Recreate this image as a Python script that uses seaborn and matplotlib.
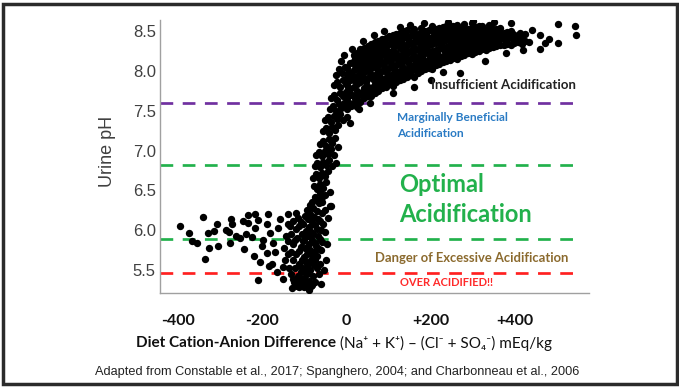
import matplotlib
matplotlib.use("Agg")
import matplotlib.pyplot as plt
import matplotlib.patches as mpatches
from matplotlib.ticker import MultipleLocator, FixedLocator
import seaborn as sns
import pandas as pd

# sparse points on the acidic side (DCAD mEq/kg, urine pH)
left_pts = [
    (-395, 6.05), (-374, 5.97), (-366, 5.86), (-355, 5.84), (-340, 6.16), (-337, 5.64),
    (-329, 5.97), (-326, 5.77), (-314, 5.99), (-307, 6.08), (-305, 5.80), (-286, 6.00),
    (-278, 5.98), (-274, 6.14), (-271, 6.08), (-276, 5.84), (-252, 5.90), (-243, 5.76),
    (-238, 5.95), (-233, 6.19), (-217, 6.20), (-233, 6.09), (-210, 6.13), (-217, 6.03),
    (-219, 5.68), (-210, 5.37), (-198, 5.88), (-200, 5.80), (-190, 6.08), (-186, 6.20),
    (-181, 5.96), (-190, 5.71), (-174, 5.84), (-176, 5.58), (-169, 5.72), (-162, 6.03),
    (-157, 6.14), (-150, 5.39), (-152, 5.54), (-140, 6.08), (-138, 6.20), (-138, 5.86),
    (-133, 5.73), (-129, 5.27), (-262, 5.93), (-246, 6.12), (-225, 5.91), (-205, 5.60),
    (-183, 5.55), (-165, 5.48),
]

# dense cluster just below zero
cluster_pts = [
    (-131, 5.95), (-128, 5.62), (-126, 6.12), (-132, 5.45), (-127, 5.82),
    (-122, 5.52), (-120, 5.70), (-123, 5.88), (-119, 6.02), (-121, 6.22), (-124, 5.35),
    (-116, 5.42), (-114, 5.58), (-113, 5.74), (-117, 5.90), (-112, 6.05), (-115, 6.15), (-118, 5.30),
    (-108, 5.48), (-106, 5.62), (-109, 5.79), (-105, 5.95), (-107, 6.10), (-110, 5.55), (-104, 5.86), (-106, 5.33),
    (-101, 5.40), (-99, 5.52), (-102, 5.66), (-98, 5.78), (-100, 5.88), (-97, 5.99), (-103, 6.08),
    (-99, 6.18), (-96, 5.60), (-101, 5.28),
    (-93, 5.45), (-91, 5.57), (-94, 5.70), (-90, 5.82), (-92, 5.93), (-89, 6.04), (-95, 5.76),
    (-91, 6.14), (-88, 5.36), (-93, 6.25),
    (-86, 5.50), (-84, 5.63), (-87, 5.75), (-83, 5.87), (-85, 5.98), (-82, 6.10), (-86, 6.20),
    (-84, 5.30), (-81, 5.69), (-87, 6.32),
    (-79, 5.42), (-77, 5.56), (-78, 5.72), (-76, 5.84), (-79, 5.95), (-75, 6.06), (-77, 6.16),
    (-80, 6.28), (-74, 5.63),
    (-71, 5.52), (-69, 5.68), (-72, 5.80), (-68, 5.92), (-70, 6.02), (-67, 6.14), (-71, 6.24), (-66, 5.76),
    (-63, 5.58), (-61, 5.75), (-64, 5.89), (-60, 6.00), (-62, 6.12), (-59, 6.22), (-65, 6.34), (-58, 6.42),
    (-145, 5.62), (-143, 5.93), (-148, 5.78), (-55, 6.08), (-90, 5.25), (-112, 5.28), (-135, 6.05),
    (-66, 5.45), (-40, 6.30), (-140, 5.70), (-136, 5.52), (-128, 5.38), (-58, 5.85), (-52, 5.98),
    (-48, 5.62), (-45, 6.15), (-54, 5.50), (-60, 5.32), (-75, 5.35), (-97, 5.32), (-83, 5.31),
    (-105, 5.31), (-112, 5.37), (-52, 6.25), (-47, 5.82),
]

# steep rise around -80..+20
rise_pts = [
    (-82, 6.35), (-76, 6.42), (-70, 6.38), (-64, 6.47), (-58, 6.35), (-52, 6.44), (-78, 6.55),
    (-71, 6.52), (-63, 6.58), (-56, 6.53), (-48, 6.60), (-40, 6.48), (-36, 6.30),
    (-80, 6.66), (-73, 6.70), (-66, 6.66), (-59, 6.72), (-52, 6.68), (-45, 6.74), (-76, 6.80),
    (-69, 6.84), (-62, 6.79), (-55, 6.86), (-48, 6.82), (-41, 6.88), (-34, 6.80), (-25, 6.84),
    (-72, 6.95), (-65, 6.98), (-58, 6.93), (-51, 7.00), (-44, 6.96), (-37, 7.02), (-30, 6.94),
    (-62, 7.08), (-55, 7.12), (-48, 7.06), (-41, 7.14), (-34, 7.10), (-27, 7.16), (-20, 7.05),
    (-55, 7.24), (-48, 7.28), (-41, 7.22), (-34, 7.30), (-27, 7.26), (-20, 7.32), (-50, 7.38),
    (-43, 7.42), (-36, 7.36), (-29, 7.44), (-22, 7.40), (-15, 7.46), (-8, 7.38), (0, 7.42), (8, 7.35),
    (-40, 7.52), (-33, 7.56), (-26, 7.50), (-19, 7.58), (-12, 7.54), (-5, 7.60), (2, 7.52),
    (10, 7.56), (-36, 7.66), (-29, 7.70), (-22, 7.64), (-15, 7.72), (-8, 7.68), (-1, 7.74),
    (18, 7.60), (25, 7.55),
    (-30, 7.82), (-23, 7.86), (-16, 7.80), (-9, 7.88), (-2, 7.84), (-25, 7.95), (-17, 8.02),
    (-10, 7.98), (-3, 8.05), (-12, 8.12),
]

# plateau on the alkaline side, one column of pH readings per DCAD value
plateau_cols = [
    (0, [7.55, 7.66, 7.74, 7.85, 7.93, 8.04]),
    (8, [7.58, 7.70, 7.77, 7.89, 7.98, 8.10]),
    (17, [7.60, 7.68, 7.80, 7.92, 8.01, 8.13, 8.20]),
    (25, [7.63, 7.75, 7.83, 7.94, 8.05, 8.12, 8.22]),
    (33, [7.61, 7.72, 7.86, 7.97, 8.08, 8.17, 8.27]),
    (42, [7.66, 7.78, 7.88, 7.99, 8.06, 8.19, 8.29]),
    (50, [7.69, 7.80, 7.91, 8.01, 8.12, 8.22, 8.31]),
    (59, [7.68, 7.77, 7.93, 8.04, 8.15, 8.24, 8.34]),
    (67, [7.72, 7.84, 7.95, 8.06, 8.13, 8.27, 8.36]),
    (76, [7.75, 7.87, 7.97, 8.08, 8.19, 8.28, 8.38]),
    (84, [7.78, 7.86, 8.00, 8.10, 8.21, 8.31, 8.40]),
    (93, [7.80, 7.91, 8.02, 8.12, 8.18, 8.30, 8.42]),
    (101, [7.83, 7.94, 8.04, 8.14, 8.24, 8.34, 8.44]),
    (110, [7.81, 7.96, 8.06, 8.16, 8.26, 8.36, 8.45]),
    (118, [7.86, 7.98, 8.08, 8.18, 8.23, 8.38, 8.47]),
    (127, [7.88, 8.00, 8.10, 8.19, 8.29, 8.40, 8.48]),
    (135, [7.90, 7.99, 8.12, 8.22, 8.31, 8.41, 8.50]),
    (144, [7.92, 8.03, 8.13, 8.23, 8.33, 8.43, 8.51]),
    (152, [7.95, 8.06, 8.15, 8.25, 8.35, 8.44]),
    (161, [7.93, 8.07, 8.17, 8.26, 8.36, 8.46, 8.53]),
    (169, [7.98, 8.09, 8.18, 8.28, 8.38, 8.47]),
    (178, [8.00, 8.11, 8.20, 8.29, 8.39, 8.49, 8.54]),
    (186, [8.02, 8.10, 8.22, 8.31, 8.40, 8.50]),
    (195, [8.04, 8.14, 8.23, 8.32, 8.42, 8.51]),
    (203, [8.03, 8.16, 8.25, 8.34, 8.43, 8.52, 8.57]),
    (212, [8.07, 8.17, 8.26, 8.35, 8.44, 8.53]),
    (220, [8.09, 8.19, 8.27, 8.36, 8.45, 8.54]),
    (229, [8.11, 8.18, 8.29, 8.38, 8.46, 8.55]),
    (237, [8.12, 8.22, 8.30, 8.39, 8.47, 8.56]),
    (246, [8.14, 8.23, 8.32, 8.40, 8.48, 8.57]),
    (254, [8.16, 8.25, 8.33, 8.41, 8.49, 8.56]),
    (263, [8.15, 8.26, 8.34, 8.42, 8.50, 8.58]),
    (271, [8.19, 8.27, 8.35, 8.43, 8.51]),
    (280, [8.20, 8.29, 8.36, 8.44, 8.52, 8.59]),
    (288, [8.22, 8.30, 8.38, 8.45, 8.53]),
    (297, [8.21, 8.31, 8.39, 8.46, 8.54, 8.60]),
    (305, [8.24, 8.32, 8.40, 8.47, 8.55]),
    (314, [8.25, 8.33, 8.41, 8.48, 8.56]),
    (322, [8.27, 8.35, 8.42, 8.49, 8.57]),
    (331, [8.26, 8.36, 8.43, 8.50]),
    (339, [8.29, 8.37, 8.44, 8.51, 8.58]),
    (348, [8.30, 8.38, 8.45, 8.52]),
    (356, [8.31, 8.39, 8.46, 8.53]),
    (365, [8.32, 8.40, 8.47, 8.54]),
    (373, [8.33, 8.41, 8.48]),
    (382, [8.34, 8.42, 8.49]),
    (390, [8.33, 8.43, 8.50]),
    (399, [8.35, 8.44]),
    (407, [8.36, 8.45]),
    (416, [8.34, 8.43]),
    (424, [8.38, 8.46]),
    (433, [8.36]),
]

# extra readings inside the dense core of the plateau
plateau_core_cols = [
    (4, [7.61, 7.80, 7.97]),
    (12, [7.70, 7.92]),
    (21, [7.66, 7.87, 8.07, 8.17]),
    (29, [7.70, 7.91, 8.03]),
    (38, [7.74, 7.93, 8.13, 8.24]),
    (46, [7.74, 7.86, 8.17]),
    (55, [7.75, 7.97, 8.09, 8.28]),
    (63, [7.80, 7.90, 8.20]),
    (72, [7.81, 8.02, 8.23, 8.33]),
    (80, [7.81, 7.92, 8.14]),
    (88, [7.84, 8.06, 8.26, 8.36]),
    (97, [7.87, 7.98, 8.20]),
    (106, [7.88, 8.10, 8.21, 8.40]),
    (114, [7.90, 8.02, 8.31]),
    (122, [7.93, 8.14, 8.34, 8.43]),
    (131, [7.95, 8.06, 8.35]),
    (140, [7.96, 8.17, 8.27, 8.46]),
    (148, [7.98, 8.09, 8.38]),
    (157, [8.01, 8.21, 8.31, 8.49]),
    (165, [8.02, 8.12, 8.41]),
    (174, [8.04, 8.24, 8.34, 8.43]),
    (182, [8.06, 8.15, 8.44]),
    (190, [8.06, 8.27, 8.37, 8.46]),
    (199, [8.09, 8.18, 8.37]),
    (208, [8.12, 8.21, 8.40, 8.49]),
    (216, [8.11, 8.21, 8.48]),
    (225, [8.14, 8.33, 8.41, 8.50]),
    (233, [8.15, 8.24, 8.42]),
    (242, [8.18, 8.27, 8.44, 8.52]),
    (250, [8.19, 8.29, 8.46]),
    (259, [8.21, 8.38, 8.46, 8.54]),
    (267, [8.22, 8.31, 8.47]),
    (276, [8.24, 8.31, 8.48, 8.55]),
    (284, [8.26, 8.34, 8.49]),
    (293, [8.26, 8.42, 8.50]),
    (301, [8.28, 8.36]),
    (310, [8.29, 8.37, 8.52]),
    (318, [8.30, 8.38]),
    (327, [8.31, 8.46, 8.53]),
    (335, [8.33, 8.40]),
    (344, [8.34, 8.41, 8.55]),
    (352, [8.35, 8.42]),
    (361, [8.36, 8.43, 8.50]),
    (378, [8.38, 8.45]),
    (395, [8.39, 8.47]),
    (412, [8.40, 8.48]),
]

# scattered points around the plateau edges
plateau_edge_pts = [
    (40, 8.38), (65, 8.45), (90, 8.50), (126, 8.55), (150, 8.58), (185, 8.60), (240, 8.62),
    (300, 8.63), (350, 8.62), (390, 8.60), (440, 8.52), (460, 8.45), (471, 8.35), (480, 8.40),
    (502, 8.59), (543, 8.57), (545, 8.45), (502, 8.35), (460, 8.28), (229, 7.99), (160, 7.80),
    (270, 7.98), (330, 8.12), (110, 7.72), (55, 7.60), (30, 7.52), (200, 7.88), (380, 8.22),
    (420, 8.26), (-5, 8.20), (12, 8.28),
]

# threshold lines (urine pH) and their colours
thresholds = [7.6, 6.82, 5.89, 5.46]
threshold_colors = ["#7030a0", "#22b14c", "#22b14c", "#ff2020"]

xtick_pos = [-400, -300, -200, -100, 0, 100, 200, 300, 400, 500]
xtick_labels = ["-400", "", "-200", "", "0", "", "+200", "", "+400", ""]
yticks = [5.5, 6.0, 6.5, 7.0, 7.5, 8.0, 8.5]

plateau_pts = [(x, p) for x, col in plateau_cols + plateau_core_cols for p in col]
all_pts = left_pts + cluster_pts + rise_pts + plateau_pts + plateau_edge_pts
df = pd.DataFrame(all_pts, columns=["dcad", "ph"])

sns.set_style("white")
plt.rcParams["font.family"] = ["Lato", "DejaVu Sans"]

W, H = 679, 387
fig = plt.figure(figsize=(W / 100, H / 100), dpi=100)
ax = fig.add_axes([160 / W, 1 - 293 / H, 429 / W, 273 / H])

sns.scatterplot(data=df, x="dcad", y="ph", color="black", s=28, linewidth=0, ax=ax, zorder=3)

for val, col in zip(thresholds, threshold_colors):
    ax.plot([-443, 548], [val, val], color=col, lw=1.95, dashes=(4.7, 3.5), zorder=2)

ax.set_xlim(-443, 576)
ax.set_ylim(5.21, 8.64)
ax.set_xlabel("")
ax.set_ylabel("")

for side in ["top", "right"]:
    ax.spines[side].set_visible(False)
for side in ["left", "bottom"]:
    ax.spines[side].set_color("#a0a0a0")
    ax.spines[side].set_linewidth(1.0)

ax.xaxis.set_major_locator(FixedLocator(xtick_pos))
ax.set_xticklabels(xtick_labels)
ax.tick_params(axis="x", which="major", direction="out", length=9, width=2.2, color="black",
               pad=6, labelsize=11.5)
for lab in ax.get_xticklabels():
    lab.set_fontweight("bold")
    lab.set_color("#111111")

ax.set_yticks(yticks)
ax.set_yticklabels([f"{v:.1f}" for v in yticks], family="Liberation Sans")
ax.yaxis.set_minor_locator(MultipleLocator(0.1))
ax.tick_params(axis="y", which="major", direction="out", length=2, width=0.8, color="#a0a0a0",
               pad=1, labelsize=12, labelcolor="#404040")
ax.tick_params(axis="y", which="minor", direction="inout", length=3, width=0.6, color="#b0b0b0")

# zone labels
ax.text(545, 7.82, "Insufficient Acidification", ha="right", va="center",
        fontsize=9.5, fontweight="bold", color="#222222", zorder=4)
ax.text(119, 7.41, "Marginally Beneficial", ha="left", va="center",
        fontsize=8.6, fontweight="bold", color="#2a7bc4")
ax.text(119, 7.21, "Acidification", ha="left", va="center",
        fontsize=8.6, fontweight="bold", color="#2a7bc4")
ax.text(124, 6.57, "Optimal", ha="left", va="center",
        fontsize=17, fontweight="bold", color="#22b14c")
ax.text(124, 6.20, "Acidification", ha="left", va="center",
        fontsize=17, fontweight="bold", color="#22b14c")
ax.text(67, 5.65, "Danger of Excessive Acidification", ha="left", va="center",
        fontsize=9.4, fontweight="bold", color="#8b6a2e")
ax.text(126, 5.34, "OVER ACIDIFIED!!", ha="left", va="center",
        fontsize=8, fontweight="bold", color="#ff2a2a")

# outer labels
fig.text(107 / W, 1 - 151 / H, "Urine pH", rotation=90, ha="center", va="center",
         fontsize=13, color="#404040", family="Liberation Sans")

t1 = fig.text(136 / W, 1 - 343 / H, "Diet Cation-Anion Difference", ha="left", va="center",
              fontsize=11, fontweight="bold", color="#111111")
fig.canvas.draw()
bb = t1.get_window_extent()
fig.text(bb.x1 / W + 4 / W, 1 - 343 / H, "(Na\u207a + K\u207a) \u2013 (Cl\u207b + SO\u2084\u207b) mEq/kg",
         ha="left", va="center", fontsize=11, color="#111111")

fig.text(337 / W, 1 - 372 / H,
         "Adapted from Constable et al., 2017; Spanghero, 2004; and Charbonneau et al., 2006",
         ha="center", va="center", fontsize=9.2, color="#222222", family="Liberation Sans")

frame = mpatches.Rectangle((3 / W, 3 / H), 674 / W, 380 / H, transform=fig.transFigure,
                           fill=False, edgecolor="#2b2b2b", linewidth=2.5)
fig.patches.append(frame)

fig.savefig("out.png", dpi=100)
